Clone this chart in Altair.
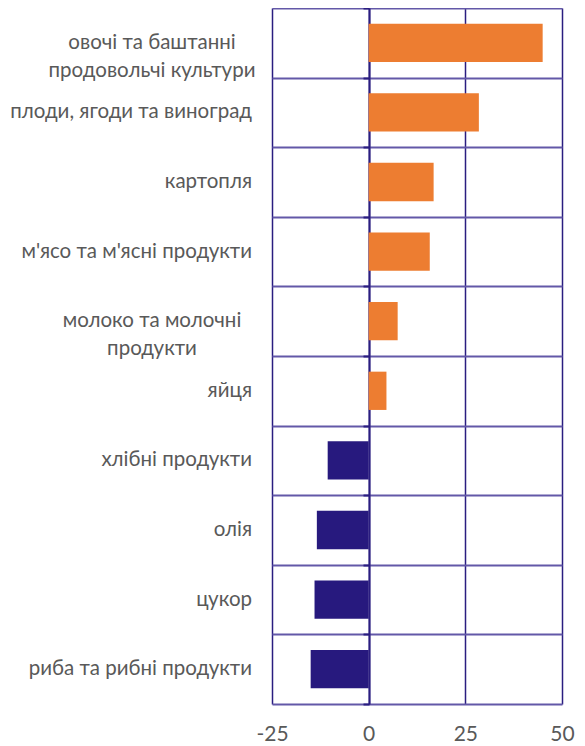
import altair as alt
import pandas as pd

categories = [
    "овочі та баштанні\nпродовольчі культури",
    "плоди, ягоди та виноград",
    "картопля",
    "м'ясо та м'ясні продукти\u00a0",
    "молоко та молочні\nпродукти",
    "яйця",
    "хлібні продукти",
    "олія",
    "цукор",
    "риба та рибні продукти",
]
values = [45.0, 28.5, 16.8, 15.8, 7.5, 4.6, -10.6, -13.4, -14.0, -15.0]
x_ticks = [-25, 0, 25, 50]

ORANGE = "#ED7D31"
NAVY = "#27197E"
GRID_V = "#2A1D80"
GRID_H = "#6358A8"
TEXT = "#595959"
FONT = "Lato"

df = pd.DataFrame({
    "cat": categories,
    "value": values,
    "sign": ["pos" if v >= 0 else "neg" for v in values],
    "multi": ["\n" in c for c in categories],
})

y_enc = alt.Y(
    "cat:N",
    sort=categories,
    scale=alt.Scale(paddingInner=0, paddingOuter=0),
    axis=alt.Axis(
        title=None, labels=False, tickBand="extent", grid=True,
        gridColor=GRID_H, gridWidth=2, gridOpacity=1,
        domain=True, domainColor=GRID_V, domainWidth=2,
        ticks=True, tickColor=GRID_V, tickSize=6, tickWidth=2,
        offset=-97,
    ),
)

x_scale = alt.Scale(domain=[-25, 50], nice=False)

bars = alt.Chart(df).mark_bar(height=alt.RelativeBandSize(0.55)).encode(
    x=alt.X(
        "value:Q",
        scale=x_scale,
        axis=alt.Axis(
            title=None, values=x_ticks, grid=True, gridColor=GRID_V,
            gridWidth=1.5, gridOpacity=1, domain=False, ticks=False,
            labelFont=FONT, labelFontSize=21, labelColor=TEXT,
            labelPadding=19, labelExpr="'' + datum.value",
            labelFlush=False, labelOverlap=False,
        ),
    ),
    x2=alt.datum(0),
    y=y_enc,
    color=alt.Color(
        "sign:N",
        scale=alt.Scale(domain=["pos", "neg"], range=[ORANGE, NAVY]),
        legend=None,
    ),
)

single = alt.Chart(df).transform_filter("!datum.multi").mark_text(
    align="right", baseline="middle", font=FONT, fontSize=20.5, color=TEXT,
    lineBreak="\n",
).encode(
    y=alt.Y("cat:N", sort=categories),
    x=alt.value(-20),
    text="cat:N",
)

multi = alt.Chart(df).transform_filter("datum.multi").mark_text(
    align="center", baseline="middle", font=FONT, fontSize=20.5, color=TEXT,
    lineBreak="\n", lineHeight=28,
).encode(
    y=alt.Y("cat:N", sort=categories),
    x=alt.value(-120),
    text="cat:N",
)

chart = alt.layer(bars, single, multi).properties(
    width=290,
    height=696,
    padding={"left": 264, "top": 0, "right": 15, "bottom": 42},
    autosize=alt.AutoSizeParams(type="none"),
    background="white",
).configure_view(stroke=None)

chart.save("out.html", embed_options={"renderer": "svg", "actions": False})
